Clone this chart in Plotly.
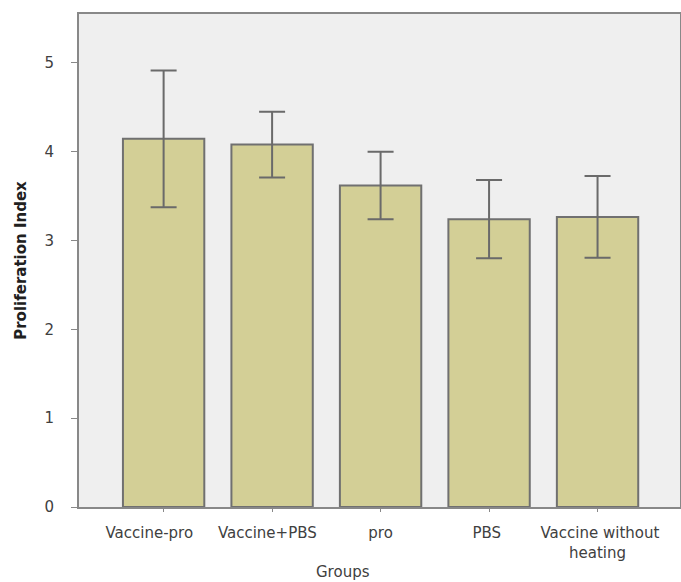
import plotly.graph_objects as go

groups = ["Vaccine-pro", "Vaccine+PBS", "pro", "PBS", "Vaccine without heating"]
tick_labels = ["Vaccine-pro\u00a0\u00a0\u00a0\u00a0\u00a0\u00a0", "Vaccine+PBS\u00a0\u00a0", "pro", "PBS\u00a0", "\u00a0Vaccine without<br>heating"]
means = [4.145, 4.08, 3.62, 3.24, 3.265]
errors = [0.77, 0.37, 0.38, 0.44, 0.46]
y_ticks = [0, 1, 2, 3, 4, 5]

fig = go.Figure()
fig.add_trace(go.Bar(
    x=groups, y=means, width=0.75,
    marker=dict(color="#d3cf96", line=dict(color="#707070", width=2)),
    error_y=dict(type="data", array=errors, visible=True, color="#6a6a6a", thickness=2, width=13),
))

fig.update_layout(
    width=681, height=582,
    margin=dict(l=79, r=1, t=14, b=75),
    paper_bgcolor="white", plot_bgcolor="#efefef",
    showlegend=False,
    font=dict(family="DejaVu Sans", size=15, color="#404040"),
    bargap=0.25,
)
fig.update_xaxes(
    range=[-0.78, 4.76], showline=True, linecolor="#888888", linewidth=2, mirror=True,
    ticks="outside", ticklen=3, tickcolor="#888888", showgrid=False,
    tickvals=groups, ticktext=tick_labels, ticklabelstandoff=8, tickangle=0, automargin=False,
    tickfont=dict(family="DejaVu Sans", size=15, color="#404040"),
)
fig.update_yaxes(
    range=[0, 5.55], tickvals=y_ticks, showline=True, linecolor="#888888", linewidth=2, mirror=True,
    ticks="outside", ticklen=6, tickcolor="#888888", showgrid=False, zeroline=False,
    ticklabelstandoff=14, automargin=False,
    tickfont=dict(family="DejaVu Sans", size=15, color="#404040"),
    title=dict(text="<b>Proliferation Index</b>", font=dict(family="DejaVu Sans", size=15, color="#202020"), standoff=14),
)
fig.add_annotation(
    text="Groups", xref="paper", yref="paper", x=(343 - 79) / 601, y=0, yshift=-65,
    showarrow=False, font=dict(family="DejaVu Sans", size=15, color="#404040"), xanchor="center", yanchor="middle",
)

fig.write_html("out.html", config={"displayModeBar": False},
               post_script="document.body.style.margin='0';document.body.style.overflow='hidden';")
